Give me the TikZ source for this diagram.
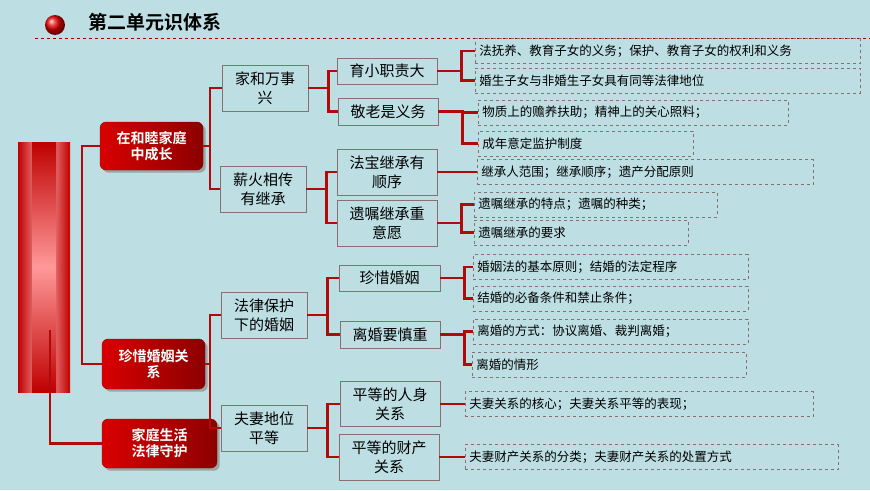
\documentclass[tikz,border=0pt]{standalone}
\usepackage{fontspec}
\setmainfont{Noto Sans CJK SC}[BoldFont={Noto Sans CJK SC Bold}]
\usetikzlibrary{shadows}
\definecolor{bgteal}{HTML}{BDDFE3}
\definecolor{linered}{HTML}{B00A0A}
\definecolor{boxline}{HTML}{8A6F70}
\tikzset{
  conn/.style={linered, line width=2.2pt},
  redbox/.style={rounded corners=6pt, draw=red!60!black, left color=red!85!black, right color=red!55!black,
    text=white, font=\bfseries\fontsize{14}{16}\selectfont, align=center, drop shadow={opacity=0.6}, inner sep=2pt},
  midbox/.style={draw=boxline, line width=0.8pt, align=center, font=\fontsize{15}{19}\selectfont, inner sep=1pt},
  dbox/.style={draw=boxline, dashed, line width=0.6pt, anchor=west, align=left, minimum height=25,
    inner sep=4pt, font=\fontsize{12.5}{14}\selectfont}
}
\begin{document}
\begin{tikzpicture}[x=1pt, y=-1pt]
	% Background and title
	\fill[bgteal] (0,0) rectangle (870,490);
	\useasboundingbox (0,0) rectangle (870,490);
	\shade[ball color=red!90!black] (55,25) circle (10);
	\node[anchor=west, font=\bfseries\fontsize{19}{20}\selectfont] (title) at (85,22) {第二单元识体系};
	\draw[red!60!black, dashed, line width=0.8pt] (35,38) -- (870,38);

	% Left bar
	\shade[left color=red!75!black, right color=red!75!black, middle color=red!30] (18,142) rectangle (70,392);
	\shade[top color=red!75!black, bottom color=red!75!black, middle color=red!40] (32,142) rectangle (56,392);

	% Main topics
	\node[redbox, minimum width=103, minimum height=48] (hm) at (151.5,146) {在和睦家庭\\中成长};
	\node[redbox, minimum width=103, minimum height=50] (zx) at (153.5,364) {珍惜婚姻关\\系};
	\node[redbox, minimum width=115, minimum height=49] (jt) at (159.5,443.5) {家庭生活\\法律守护};
	\coordinate (b1) at (50,330);
	\draw[conn] (hm.west) -- ++(-18,0) |- (zx.west);
	\draw[conn] (b1) |- (jt.west);

	% Second level
	\node[midbox, minimum width=86, minimum height=46] (jh) at (265,88) {家和万事\\兴};
	\node[midbox, minimum width=86, minimum height=46] (xh) at (263,189) {薪火相传\\有继承};
	\node[midbox, minimum width=86, minimum height=46] (fl) at (264,315) {法律保护\\下的婚姻};
	\node[midbox, minimum width=86, minimum height=46] (fq) at (264,428) {夫妻地位\\平等};
	\draw[conn] (hm.east) -- ++(7,0) |- (jh.west);
	\draw[conn] (hm.east) -- ++(7,0) |- (xh.west);
	\draw[conn] (zx.east) -- ++(5,0) |- (fl.west);
	\draw[conn] (zx.east) -- ++(5,0) |- (fq.west);

	% Third level
	\node[midbox, minimum width=100, minimum height=26] (yx) at (387,71) {育小职责大};
	\node[midbox, minimum width=100, minimum height=27] (jl) at (388,111.5) {敬老是义务};
	\node[midbox, minimum width=100, minimum height=46] (fb) at (387,172) {法宝继承有\\顺序};
	\node[midbox, minimum width=100, minimum height=46] (yz) at (387,223) {遗嘱继承重\\意愿};
	\node[midbox, minimum width=101, minimum height=26] (zh) at (389.5,278) {珍惜婚姻};
	\node[midbox, minimum width=100, minimum height=27] (lh) at (390,334.5) {离婚要慎重};
	\node[midbox, minimum width=100, minimum height=45] (rs) at (390,404) {平等的人身\\关系};
	\node[midbox, minimum width=100, minimum height=46] (cc) at (389,457) {平等的财产\\关系};
	\foreach \p/\c in {jh/yx, jh/jl, xh/fb, xh/yz, fl/zh, fl/lh, fq/rs, fq/cc}
		\draw[conn] (\p.east) -- ++(20,0) |- (\c.west);

	% Details
	\node[dbox, text width=377] (d1) at (475,51) {法抚养、教育子女的义务；保护、教育子女的权利和义务};
	\node[dbox, text width=377] (d2) at (475,80.5) {婚生子女与非婚生子女具有同等法律地位};
	\node[dbox, text width=302] (d3) at (478,112.5) {物质上的赡养扶助；精神上的关心照料；};
	\node[dbox, text width=207] (d4) at (478,143.5) {成年意定监护制度};
	\node[dbox, text width=328] (d5) at (477,172) {继承人范围；继承顺序；遗产分配原则};
	\node[dbox, text width=235] (d6) at (474,204.5) {遗嘱继承的特点；遗嘱的种类；};
	\node[dbox, text width=206] (d7) at (474,232.5) {遗嘱继承的要求};
	\node[dbox, text width=267] (d8) at (473,267) {婚姻法的基本原则；结婚的法定程序};
	\node[dbox, text width=267] (d9) at (473,298.5) {结婚的必备条件和禁止条件；};
	\node[dbox, text width=267] (d10) at (473,331.5) {离婚的方式：协议离婚、裁判离婚；};
	\node[dbox, text width=266] (d11) at (472,364.5) {离婚的情形};
	\node[dbox, text width=340] (d12) at (465,404) {夫妻关系的核心；夫妻关系平等的表现；};
	\node[dbox, text width=365] (d13) at (465,457) {夫妻财产关系的分类；夫妻财产关系的处置方式};
	\foreach \p/\c in {yx/d1, yx/d2, jl/d3, jl/d4, yz/d6, yz/d7, zh/d8, zh/d9, lh/d10, lh/d11}
		\draw[conn] (\p.east) -- ++(24,0) |- (\c.west);
	\draw[conn] (fb.east) -- (d5.west);
	\draw[conn] (rs.east) -- (d12.west);
	\draw[conn] (cc.east) -- (d13.west);
\end{tikzpicture}
\end{document}
